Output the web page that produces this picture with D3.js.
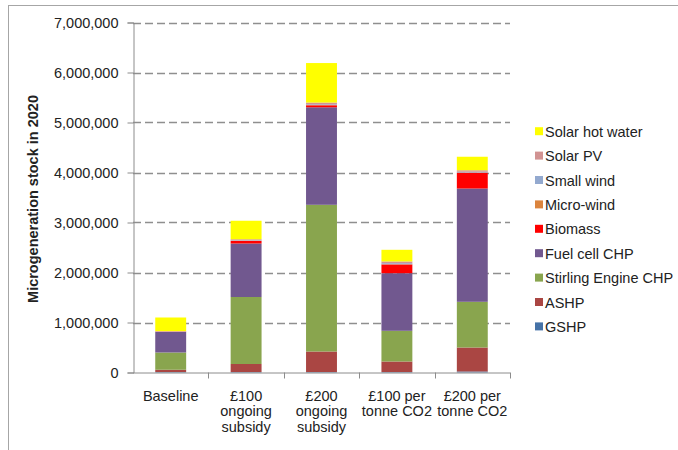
<!DOCTYPE html>
<html>
<head>
<meta charset="utf-8">
<script src="https://cdn.jsdelivr.net/npm/d3@7"></script>
<style>
  html, body { margin: 0; padding: 0; background: #fff; }
  svg { display: block; font-family: "Liberation Sans", Arial, sans-serif; }
</style>
</head>
<body>
<svg id="chart" width="678" height="450"></svg>
<script>
// Scenarios (x categories); each label is split into lines
const scenarios = ["Baseline", "£100 ongoing subsidy", "£200 ongoing subsidy", "£100 per tonne CO2", "£200 per tonne CO2"];
const scenarioLines = [["Baseline"], ["£100", "ongoing", "subsidy"], ["£200", "ongoing", "subsidy"], ["£100 per", "tonne CO2"], ["£200 per", "tonne CO2"]];

// Technologies, stacked bottom to top
const technologies = ["GSHP", "ASHP", "Stirling Engine CHP", "Fuel cell CHP", "Biomass", "Micro-wind", "Small wind", "Solar PV", "Solar hot water"];
const techColors = ["#4572A7", "#AA4643", "#89A54E", "#71588F", "#FF0000", "#DB843D", "#93A9CF", "#D19392", "#FFFF00"];

// Installed units in 2020 per technology, one value per scenario
const gshp       = [10000,   10000,   10000,   10000,   20000];
const ashp       = [45000,   160000,  410000,  210000,  480000];
const stirling   = [345000,  1340000, 2934000, 614000,  914000];
const fuelCell   = [410000,  1070000, 1950000, 1152000, 2266000];
const biomass    = [5000,    50000,   40000,   175000,  315000];
const microWind  = [2000,    5000,    5000,    5000,    5000];
const smallWind  = [3000,    10000,   15000,   20000,   15000];
const solarPV    = [8000,    20000,   35000,   35000,   30000];
const solarHW    = [272000,  370000,  790000,  233000,  270000];

const yTicks = [0, 1000000, 2000000, 3000000, 4000000, 5000000, 6000000, 7000000];
const yTitle = "Microgeneration stock in 2020";

const seriesValues = [gshp, ashp, stirling, fuelCell, biomass, microWind, smallWind, solarPV, solarHW];
const table = scenarios.map((s, i) => {
  const row = { scenario: s };
  technologies.forEach((t, k) => { row[t] = seriesValues[k][i]; });
  return row;
});

const svg = d3.select("#chart");

// Outer frame of the chart area
svg.append("rect")
  .attr("x", 8.5).attr("y", 5.5)
  .attr("width", 700).attr("height", 470)
  .attr("fill", "none").attr("stroke", "#a6a6a6").attr("stroke-width", 1);

const plot = { left: 133, right: 510, top: 22.5, bottom: 372.5 };

const x = d3.scaleBand()
  .domain(scenarios)
  .range([plot.left, plot.right])
  .paddingInner(0.59)
  .paddingOuter(0.295);

const y = d3.scaleLinear()
  .domain([0, 7000000])
  .range([plot.bottom, plot.top]);

// Dashed horizontal gridlines
svg.append("g")
  .selectAll("line")
  .data(yTicks.filter(d => d > 0))
  .join("line")
  .attr("x1", plot.left).attr("x2", plot.right)
  .attr("y1", d => Math.round(y(d)) + 0.5).attr("y2", d => Math.round(y(d)) + 0.5)
  .attr("stroke", "#8f8f8f")
  .attr("stroke-width", 1.4)
  .attr("stroke-dasharray", "8,4");

// Stacked bars
const stack = d3.stack().keys(technologies);
const layers = stack(table);

svg.append("g")
  .selectAll("g")
  .data(layers)
  .join("g")
  .attr("fill", (d, i) => techColors[i])
  .selectAll("rect")
  .data(d => d)
  .join("rect")
  .attr("x", d => x(d.data.scenario))
  .attr("width", x.bandwidth())
  .attr("y", d => y(d[1]))
  .attr("height", d => Math.max(0, y(d[0]) - y(d[1])));

// Y axis
const yAxis = d3.axisLeft(y)
  .tickValues(yTicks)
  .tickSize(6)
  .tickPadding(9)
  .tickFormat(d3.format(","));

const gy = svg.append("g")
  .attr("transform", `translate(${plot.left + 0.5},0)`)
  .call(yAxis);
gy.select(".domain").attr("stroke", "#8c8c8c");
gy.selectAll(".tick line").attr("stroke", "#8c8c8c");
gy.selectAll(".tick text")
  .attr("font-size", "14.5px")
  .attr("font-family", "Liberation Sans, Arial, sans-serif")
  .attr("fill", "#222");

// X axis line with boundary ticks between categories
const bounds = d3.range(scenarios.length + 1).map(i => plot.left + i * x.step());
svg.append("line")
  .attr("x1", plot.left).attr("x2", plot.right)
  .attr("y1", plot.bottom + 0.5).attr("y2", plot.bottom + 0.5)
  .attr("stroke", "#8c8c8c");
svg.append("g")
  .selectAll("line")
  .data(bounds.slice(1))
  .join("line")
  .attr("x1", d => Math.round(d) + 0.5).attr("x2", d => Math.round(d) + 0.5)
  .attr("y1", plot.bottom).attr("y2", plot.bottom + 6)
  .attr("stroke", "#8c8c8c");

// Category labels
const xl = svg.append("g");
scenarios.forEach((s, i) => {
  const cx = x(s) + x.bandwidth() / 2;
  const t = xl.append("text")
    .attr("x", cx).attr("y", 400.5)
    .attr("text-anchor", "middle")
    .attr("font-size", "14.5px")
    .attr("fill", "#222");
  scenarioLines[i].forEach((ln, j) => {
    t.append("tspan").attr("x", cx).attr("dy", j === 0 ? 0 : 15.5).text(ln);
  });
});

// Y axis title
svg.append("text")
  .attr("transform", `translate(38,199) rotate(-90)`)
  .attr("text-anchor", "middle")
  .attr("font-size", "14.5px")
  .attr("font-weight", "bold")
  .attr("fill", "#222")
  .text(yTitle);

// Legend (top entry is the top of the stack)
const legendItems = technologies.map((t, i) => ({ name: t, color: techColors[i] })).reverse();
const legend = svg.append("g");
legendItems.forEach((d, i) => {
  const cy = 131.7 + i * 24.4;
  legend.append("rect")
    .attr("x", 535).attr("y", cy - 4.5)
    .attr("width", 8).attr("height", 8)
    .attr("fill", d.color);
  legend.append("text")
    .attr("x", 545).attr("y", cy + 5)
    .attr("font-size", "14.5px")
    .attr("fill", "#222")
    .text(d.name);
});
</script>
</body>
</html>
